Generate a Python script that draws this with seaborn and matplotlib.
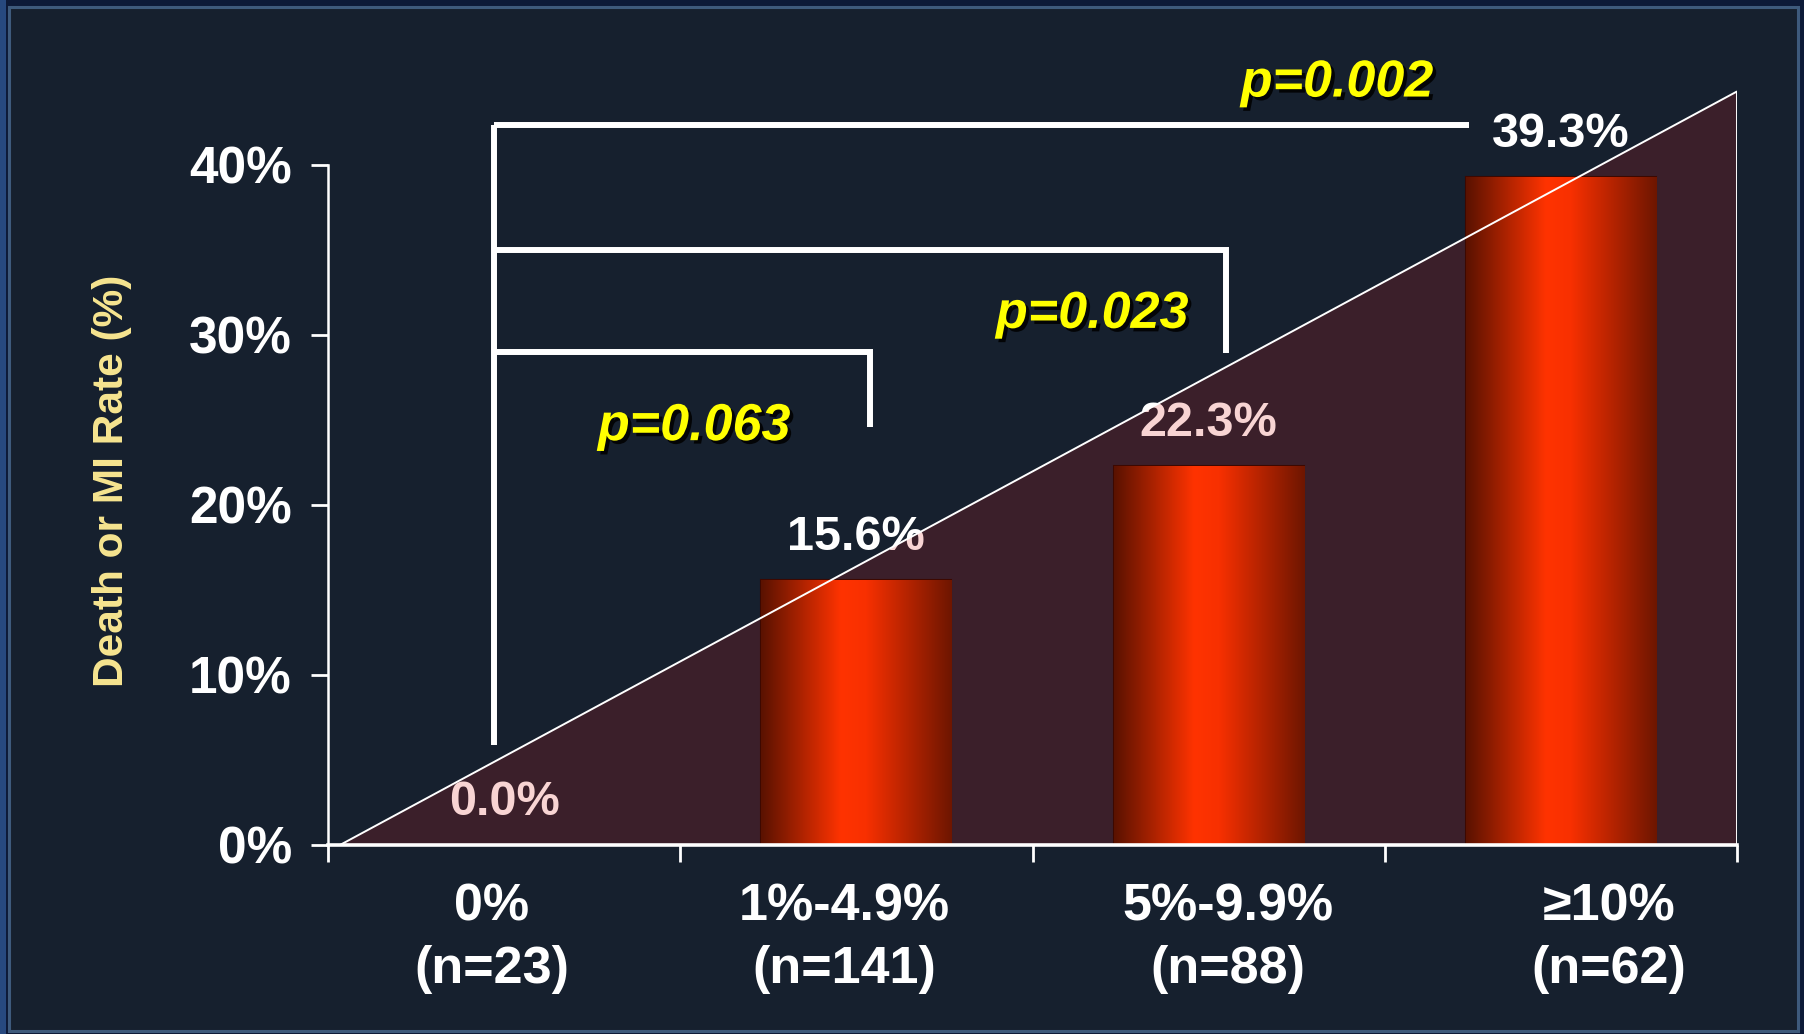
import numpy as np
import pandas as pd
import matplotlib
matplotlib.use("Agg")
import matplotlib.pyplot as plt
import matplotlib.patheffects as pe
from matplotlib.colors import LinearSegmentedColormap
from matplotlib.patches import Polygon, Rectangle
import seaborn as sns

# ---- data ----
groups = ["0%\n(n=23)", "1%-4.9%\n(n=141)", "5%-9.9%\n(n=88)", "≥10%\n(n=62)"]
rates = [0.0, 15.6, 22.3, 39.3]
rate_labels = ["0.0%", "15.6%", "22.3%", "39.3%"]
y_ticks = [0, 10, 20, 30, 40]
y_tick_labels = ["0%", "10%", "20%", "30%", "40%"]

# comparison brackets against the 0% group
p_labels = ["p=0.063", "p=0.023", "p=0.002"]
bracket_y = [29.0, 35.0, 42.3]
bracket_end_x = [1.04, 2.05, 2.74]
bracket_drop_y = [24.6, 28.9, None]
bracket_start_x = -0.03
bracket_base_y = 5.85
p_label_x = [0.54, 1.67, 2.365]
p_label_y = [23.8, 30.4, 44.0]

# rising trend wedge behind the bars
trend_x = [-0.466, 3.5, 3.5]
trend_y = [0.0, 44.3, 0.0]

# where the group captions sit along the x axis
group_label_x = [-0.036, 0.967, 2.056, 3.136]

# ---- style ----
sns.set_theme(style="dark")
plt.rcParams["font.family"] = ["Liberation Sans", "DejaVu Sans"]
plt.rcParams["font.weight"] = "bold"

W, H, DPI = 1804, 1034, 100
fig = plt.figure(figsize=(W / DPI, H / DPI), dpi=DPI)
fig.patch.set_facecolor("#0d1a38")

# slide frame
fig.add_artist(Rectangle((0, 0), 6 / W, 1, transform=fig.transFigure,
                         facecolor="#27497f", edgecolor="none", zorder=-10))
fig.add_artist(Rectangle((9 / W, 3 / H), 1789 / W, 1024 / H, transform=fig.transFigure,
                         facecolor="#16202e", edgecolor="#3e5a7c", linewidth=2.2,
                         zorder=-9))

ax = fig.add_axes([328 / W, 1 - 845 / H, (1737 - 328) / W, 46 * 17.01 / H])
ax.set_facecolor("none")

df = pd.DataFrame({"group": groups, "rate": rates})
sns.barplot(data=df, x="group", y="rate", ax=ax, width=0.54,
            color="#ff3300", edgecolor="#3d0800", linewidth=1.5, zorder=2)

# horizontal shading on each bar
bar_cmap = LinearSegmentedColormap.from_list(
    "bar", [(0.0, "#5a1200"), (0.42, "#ff3300"), (0.55, "#f83000"), (1.0, "#6e1600")])
grad = np.linspace(0, 1, 256).reshape(1, -1)
for bar in ax.patches:
    x0, w, h = bar.get_x(), bar.get_width(), bar.get_height()
    if h <= 0:
        bar.set_visible(False)
        continue
    im = ax.imshow(grad, cmap=bar_cmap, aspect="auto", extent=(x0, x0 + w, 0, h),
                   zorder=2, interpolation="bicubic")
    im.set_clip_path(bar)

# trend wedge: translucent fill under bars, white outline above them
ax.add_patch(Polygon(np.column_stack([trend_x, trend_y]), closed=True,
                     facecolor=(0.86, 0.12, 0.1, 0.19), edgecolor="none", zorder=1.5))
ax.add_patch(Polygon(np.column_stack([trend_x, trend_y]), closed=True,
                     facecolor="none", edgecolor="white", linewidth=1.4, zorder=3))

# value labels
for i, (v, lab) in enumerate(zip(rates, rate_labels)):
    ax.text(i, v + 1.75, lab, ha="center", va="baseline", color="white",
            fontsize=35, fontweight="bold", zorder=1)

# brackets
lw_br = 4.3
ax.plot([bracket_start_x, bracket_start_x], [bracket_base_y, max(bracket_y)],
        color="white", lw=lw_br, solid_capstyle="butt", zorder=4, clip_on=False)
for yb, xe, yd in zip(bracket_y, bracket_end_x, bracket_drop_y):
    xs = [bracket_start_x, xe]
    ys = [yb, yb]
    if yd is not None:
        xs.append(xe)
        ys.append(yd)
    ax.plot(xs, ys, color="white", lw=lw_br, solid_joinstyle="miter",
            solid_capstyle="butt", zorder=4, clip_on=False)

shadow = [pe.withSimplePatchShadow(offset=(2.5, -2.5), shadow_rgbFace="black", alpha=0.85)]
for x, y, lab in zip(p_label_x, p_label_y, p_labels):
    ax.text(x, y, lab, ha="center", va="baseline", color="#ffff00", fontsize=37.5,
            fontweight="bold", fontstyle="italic", path_effects=shadow, zorder=5,
            clip_on=False)

# axes
ax.set_xlim(-0.5, 3.5)
ax.set_ylim(0, 46)
ax.set_xlabel("")
ax.set_ylabel("")
for s in ["top", "right"]:
    ax.spines[s].set_visible(False)
ax.spines["left"].set_bounds(0, 40)
ax.spines["left"].set_color("white")
ax.spines["left"].set_linewidth(1.8)
ax.spines["bottom"].set_color("white")
ax.spines["bottom"].set_linewidth(2.6)
ax.spines["bottom"].set_zorder(4)

ax.set_yticks(y_ticks)
ax.set_yticklabels(y_tick_labels)
ax.tick_params(axis="y", direction="out", length=12, width=2, color="white",
               labelcolor="white", labelsize=37, pad=14, left=True)
ax.set_xticks(group_label_x)
ax.set_xticklabels(groups, linespacing=1.36)
ax.set_xticks([-0.5, 0.5, 1.5, 2.5, 3.5], minor=True)
ax.tick_params(axis="x", which="major", length=0, labelcolor="white",
               labelsize=37.5, pad=27)
ax.tick_params(axis="x", which="minor", direction="out", length=12, width=2,
               color="white", bottom=True)
for t in ax.get_xticklabels() + ax.get_yticklabels():
    t.set_fontweight("bold")
ax.grid(False)

fig.text(112 / W, 1 - 481 / H, "Death or MI Rate (%)", rotation=90, ha="center",
         va="center", color="#f7e590", fontsize=30.5, fontweight="bold")

fig.savefig("out.png", dpi=DPI, facecolor=fig.get_facecolor())
